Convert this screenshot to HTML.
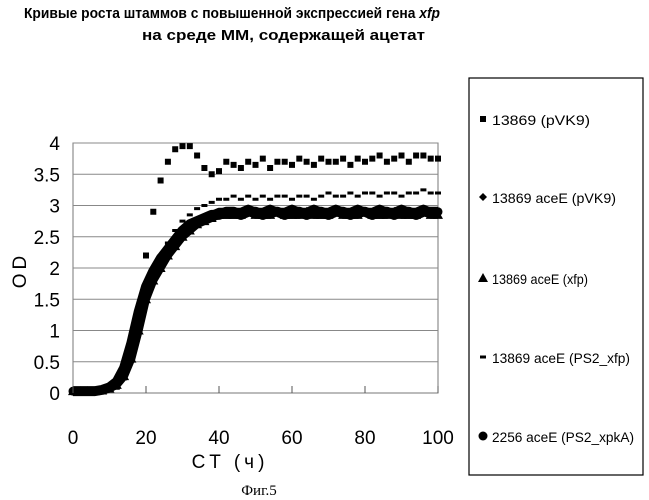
<!DOCTYPE html>
<html><head><meta charset="utf-8"><style>
body{margin:0;background:#fff;width:649px;height:500px;overflow:hidden;font-family:"Liberation Sans",sans-serif}
svg{position:absolute;left:0;top:0}
</style></head><body>
<svg id="c" width="649" height="500">
<text x="24" y="18" textLength="416" lengthAdjust="spacingAndGlyphs" font-weight="bold" font-size="15">Кривые роста штаммов с повышенной экспрессией гена <tspan font-style="italic">xfp</tspan></text>
<text x="142" y="40" textLength="283" lengthAdjust="spacingAndGlyphs" font-weight="bold" font-size="15">на среде ММ, содержащей ацетат</text>
<rect x="73" y="143" width="365" height="250" fill="none" stroke="#777" stroke-width="1"/>
<g id="grid"></g><g id="marks"></g><g id="axes"></g>
<text x="230" y="468" text-anchor="middle" font-size="19" letter-spacing="4">CT (ч)</text>
<text transform="translate(26,270) rotate(-90)" text-anchor="middle" font-size="19" letter-spacing="4">OD</text>
<text x="259" y="495" text-anchor="middle" font-family="Liberation Serif,serif" font-size="15">Фиг.5</text>
<rect x="469" y="78" width="174" height="397" fill="none" stroke="#000" stroke-width="1.2"/>
<g id="legend" font-size="14"></g>
</svg>
<script>
const hours=[0,2,4,6,8,10,12,14,16,18,20,22,24,26,28,30,32,34,36,38,40,42,44,46,48,50,52,54,56,58,60,62,64,66,68,70,72,74,76,78,80,82,84,86,88,90,92,94,96,98,100];
const sPVK9=[0.03,0.03,0.03,0.03,0.04,0.06,0.1,0.25,0.6,1.3,2.2,2.9,3.4,3.7,3.9,3.95,3.95,3.8,3.6,3.5,3.55,3.7,3.65,3.6,3.7,3.65,3.75,3.6,3.7,3.7,3.65,3.75,3.7,3.65,3.75,3.7,3.7,3.75,3.65,3.75,3.7,3.75,3.8,3.7,3.75,3.8,3.7,3.8,3.8,3.75,3.75];
const sAcePVK9=[0.03,0.03,0.03,0.03,0.05,0.08,0.15,0.3,0.6,1.1,1.6,1.9,2.1,2.3,2.45,2.6,2.7,2.75,2.8,2.85,2.9,2.9,2.9,2.9,2.95,2.9,2.9,2.95,2.9,2.9,2.95,2.9,2.9,2.95,2.9,2.9,2.95,2.9,2.9,2.95,2.9,2.9,2.95,2.9,2.9,2.95,2.9,2.9,2.95,2.9,2.9];
const sAceXfp=[0.03,0.03,0.03,0.03,0.04,0.07,0.13,0.27,0.55,1.0,1.5,1.8,2.0,2.2,2.35,2.5,2.6,2.7,2.75,2.8,2.85,2.85,2.85,2.85,2.9,2.85,2.85,2.85,2.9,2.85,2.85,2.85,2.9,2.85,2.85,2.85,2.9,2.85,2.85,2.85,2.9,2.85,2.85,2.85,2.9,2.85,2.85,2.85,2.9,2.85,2.85];
const sAcePS2=[0.03,0.03,0.03,0.03,0.04,0.07,0.14,0.3,0.6,1.1,1.6,1.95,2.2,2.4,2.6,2.75,2.85,2.95,3.0,3.05,3.1,3.1,3.15,3.1,3.15,3.1,3.15,3.1,3.15,3.15,3.1,3.15,3.15,3.1,3.15,3.2,3.15,3.15,3.2,3.15,3.2,3.2,3.15,3.2,3.2,3.15,3.2,3.2,3.25,3.2,3.2];
const s2256=[0.03,0.03,0.03,0.03,0.05,0.09,0.18,0.4,0.8,1.3,1.7,1.95,2.15,2.3,2.45,2.6,2.7,2.75,2.8,2.85,2.85,2.9,2.9,2.85,2.9,2.9,2.85,2.9,2.9,2.85,2.9,2.9,2.85,2.9,2.9,2.85,2.9,2.9,2.85,2.9,2.9,2.85,2.9,2.9,2.85,2.9,2.9,2.85,2.9,2.9,2.9];
const xTicks=[0,20,40,60,80,100];
const yTicks=[0,0.5,1,1.5,2,2.5,3,3.5,4];
const legendLabels=["13869 (pVK9)","13869 aceE (pVK9)","13869 aceE (xfp)","13869 aceE (PS2_xfp)","2256 aceE (PS2_xpkA)"];
const legendWidths=[98,124,96,138,142];
const NS="http://www.w3.org/2000/svg";
const X=v=>73+v*3.65, Y=v=>393-v*62.5;
function mk(t,a,p){const e=document.createElementNS(NS,t);for(const k in a)e.setAttribute(k,a[k]);p.appendChild(e);return e;}
const grid=document.getElementById('grid'),axes=document.getElementById('axes'),marks=document.getElementById('marks'),legend=document.getElementById('legend');
yTicks.forEach(v=>{
 if(v>0){const l=mk('line',{x1:73,x2:438,y1:Y(v),y2:Y(v),stroke:'#888','stroke-width':1},grid);
 
 }
 const t=mk('text',{x:60,y:Y(v)+7,'text-anchor':'end','font-size':19},axes);t.textContent=v;
 
 
});
xTicks.forEach(v=>{
 const l=mk('line',{x1:X(v),x2:X(v),y1:393,y2:386,stroke:'#555'},axes);
 
 
 const t=mk('text',{x:X(v),y:444,'text-anchor':'middle','font-size':19},axes);t.textContent=v;
 
 
});
function band(data,w,name){
 const pts=hours.map((h,i)=>X(h)+','+Y(data[i])).join(' ');
 const p=mk('polyline',{points:pts,fill:'none',stroke:'#000','stroke-width':w,'stroke-linejoin':'round'},marks);
 
 
}
band(s2256,10,'series-2256-band');band(sAcePVK9,8,'series-acepvk9-band');band(sAceXfp,8,'series-acexfp-band');
function marker(kind,x,y,g){
 if(kind==='sq')return mk('rect',{x:x-3,y:y-3,width:6,height:6},g);
 if(kind==='di')return mk('polygon',{points:`${x},${y-4} ${x+4},${y} ${x},${y+4} ${x-4},${y}`},g);
 if(kind==='tr')return mk('polygon',{points:`${x},${y-5} ${x+5},${y+4} ${x-5},${y+4}`},g);
 if(kind==='da')return mk('rect',{x:x-3,y:y-1.5,width:6,height:3},g);
 return mk('circle',{cx:x,cy:y,r:4.5},g);
}
const series=[[sPVK9,'sq','series-pvk9'],[sAcePVK9,'di','series-acee-pvk9'],[sAceXfp,'tr','series-acee-xfp'],[sAcePS2,'da','series-acee-ps2-xfp'],[s2256,'ci','series-2256-ps2-xpka']];
series.forEach(([d,k,n])=>{
 const g=mk('g',{fill:'#000'},marks);
 
 
 d.forEach((v,i)=>{const m=marker(k,X(hours[i]),Y(v),g);
  
  });
});
const ly=[125,203,284,363,442];
series.forEach(([d,k],i)=>{
 const g=mk('g',{fill:'#000'},legend);
 
 
 marker(k,483,ly[i]-6,g);
 const t=mk('text',{x:492,y:ly[i],textLength:legendWidths[i],lengthAdjust:'spacingAndGlyphs'},g);t.textContent=legendLabels[i];
});
</script>
</body></html>
